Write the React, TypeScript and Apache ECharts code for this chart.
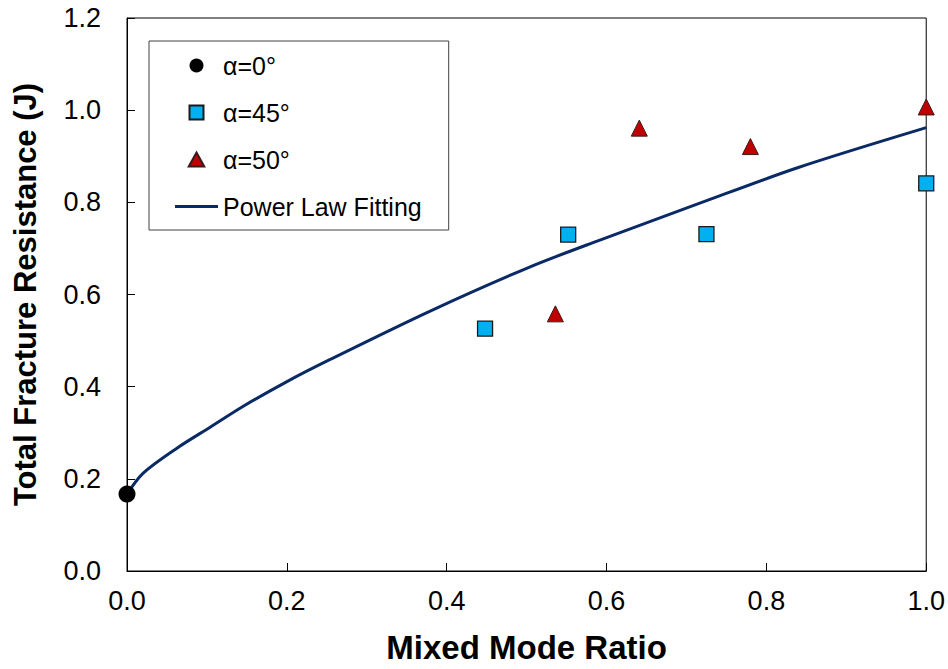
import React, { useEffect, useRef } from "react";
import * as echarts from "echarts";

const alpha0 = [[0, 0.167]];
const alpha45 = [
  [0.448, 0.526],
  [0.552, 0.73],
  [0.725, 0.731],
  [1.0, 0.841],
];
const alpha50 = [
  [0.536, 0.558],
  [0.641, 0.961],
  [0.78, 0.921],
  [1.0, 1.007],
];
const curveX = [0, 0.02, 0.062, 0.104, 0.145, 0.199, 0.253, 0.378, 0.503, 0.59, 0.715, 0.839, 1.0];
const curveY = [0.167, 0.212, 0.266, 0.312, 0.357, 0.41, 0.458, 0.563, 0.659, 0.717, 0.797, 0.875, 0.962];

const FONT = "'Liberation Sans', Arial, sans-serif";

const ICON_CIRCLE = "path://M5,0 A5,5 0 1,1 4.999,0 Z";
const ICON_SQUARE = "path://M0,0 L10,0 L10,10 L0,10 Z";
const ICON_TRIANGLE = "path://M5,0 L10,9 L0,9 Z";
const ICON_LINE = "path://M0,0 L43,0 L43,3 L0,3 Z";

export default function App() {
  const ref = useRef<HTMLDivElement>(null);
  useEffect(() => {
    if (!ref.current) return;
    const chart = echarts.init(ref.current, undefined, { renderer: "svg" });
    const curve = curveX.map((x, i) => [x, curveY[i]]);
    chart.setOption({
      animation: false,
      backgroundColor: "#ffffff",
      textStyle: { fontFamily: FONT },
      grid: {
        left: 127,
        right: 19,
        top: 18,
        bottom: 98,
        show: true,
        borderColor: "#000",
        borderWidth: 1,
        backgroundColor: "transparent",
      },
      legend: {
        orient: "vertical",
        left: 149,
        top: 41,
        padding: [12, 27, 11, 26],
        itemWidth: 43,
        itemHeight: 14,
        itemGap: 22,
        borderColor: "#404040",
        borderWidth: 1,
        backgroundColor: "#fff",
        textStyle: { fontSize: 25, color: "#000", fontFamily: FONT },
        data: [
          { name: "α=0°", icon: ICON_CIRCLE },
          { name: "α=45°", icon: ICON_SQUARE },
          { name: "α=50°", icon: ICON_TRIANGLE },
          { name: "Power Law Fitting", icon: ICON_LINE },
        ],
      },
      xAxis: {
        type: "value",
        min: 0,
        max: 1,
        interval: 0.2,
        name: "Mixed Mode Ratio",
        nameLocation: "middle",
        nameGap: 60,
        nameTextStyle: { fontSize: 33, fontWeight: "bold", color: "#000", fontFamily: FONT },
        axisLine: { show: true, lineStyle: { color: "#000", width: 1 } },
        axisTick: { show: true, inside: true, length: 8, lineStyle: { color: "#000" } },
        axisLabel: {
          fontSize: 27,
          color: "#000",
          margin: 16,
          fontFamily: FONT,
          formatter: (v: number) => v.toFixed(1),
        },
        splitLine: { show: false },
      },
      yAxis: {
        type: "value",
        min: 0,
        max: 1.2,
        interval: 0.2,
        name: "Total Fracture Resistance (J)",
        nameLocation: "middle",
        nameGap: 86,
        nameTextStyle: { fontSize: 31, fontWeight: "bold", color: "#000", fontFamily: FONT },
        axisLine: { show: true, lineStyle: { color: "#000", width: 1 } },
        axisTick: { show: true, inside: true, length: 8, lineStyle: { color: "#000" } },
        axisLabel: {
          fontSize: 27,
          color: "#000",
          margin: 26,
          fontFamily: FONT,
          formatter: (v: number) => v.toFixed(1),
        },
        splitLine: { show: false },
      },
      series: [
        {
          name: "Power Law Fitting",
          type: "line",
          data: curve,
          smooth: 0.3,
          showSymbol: false,
          symbol: "none",
          lineStyle: { color: "#0a2a66", width: 3 },
          itemStyle: { color: "#0a2a66" },
          z: 2,
        },
        {
          name: "α=0°",
          type: "scatter",
          data: alpha0,
          symbol: "circle",
          symbolSize: 17,
          itemStyle: { color: "#000", borderColor: "#000", borderWidth: 0, opacity: 1 },
          z: 3,
        },
        {
          name: "α=45°",
          type: "scatter",
          data: alpha45,
          symbol: "rect",
          symbolSize: 15,
          itemStyle: { color: "#00b0f0", borderColor: "#1a1a1a", borderWidth: 1.3, opacity: 1 },
          z: 3,
        },
        {
          name: "α=50°",
          type: "scatter",
          data: alpha50,
          symbol: "triangle",
          symbolSize: 16,
          itemStyle: { color: "#c00000", borderColor: "#3a1a1a", borderWidth: 1, opacity: 1 },
          z: 3,
        },
      ],
    });
    return () => chart.dispose();
  }, []);
  return (
    <div
      ref={ref}
      style={{ position: "fixed", left: 0, top: 0, width: 948, height: 669, background: "#fff" }}
    />
  );
}
